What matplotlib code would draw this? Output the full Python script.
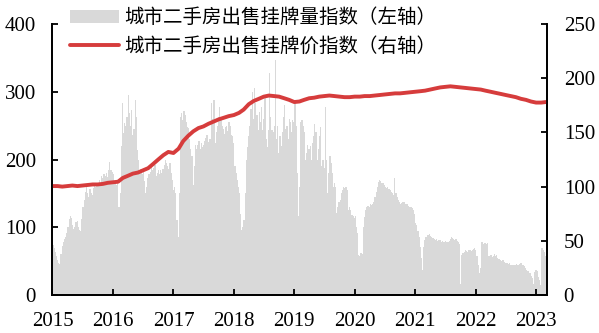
import matplotlib
matplotlib.use('Agg')
import matplotlib.pyplot as plt
import pandas as pd

listing_2015 = [74, 70, 64, 58, 52, 48, 46, 60, 72, 78,
                82, 86, 91, 100, 112, 116, 114, 104, 98, 101,
                108, 109, 100, 96, 94, 112, 130, 140, 152, 160,
                150, 145, 156, 150, 148, 158, 165, 160, 166, 165,
                170, 162, 175, 172, 178, 176, 180, 174, 185, 196,
                184, 182]
listing_2016 = [178, 168, 165, 162, 166, 130, 150, 220, 284, 239,
                254, 250, 262, 295, 268, 250, 273, 236, 245, 288,
                262, 214, 199, 180, 186, 178, 182, 168, 150, 160,
                173, 178, 182, 190, 184, 188, 192, 175, 180, 185,
                178, 184, 180, 186, 192, 199, 195, 190, 186, 195,
                180, 170]
listing_2017 = [155, 160, 150, 110, 86, 150, 262, 268, 258, 271,
                265, 255, 248, 246, 230, 215, 205, 162, 190, 221,
                215, 222, 228, 215, 225, 218, 222, 228, 232, 236,
                226, 230, 230, 283, 260, 288, 225, 240, 250, 262,
                278, 262, 250, 245, 238, 248, 250, 242, 255, 250,
                236, 235]
listing_2018 = [225, 190, 180, 170, 160, 150, 120, 96, 100, 110,
                150, 200, 219, 235, 250, 275, 300, 260, 305, 283,
                265, 244, 270, 255, 278, 244, 260, 293, 230, 219,
                244, 327, 262, 244, 240, 250, 347, 230, 250, 210,
                235, 220, 240, 262, 280, 245, 250, 230, 260, 255,
                240, 258]
listing_2019 = [255, 283, 250, 180, 116, 160, 255, 258, 250, 240,
                199, 210, 222, 215, 220, 199, 225, 235, 252, 240,
                199, 215, 235, 248, 190, 200, 188, 278, 200, 150,
                180, 205, 195, 180, 160, 165, 160, 121, 130, 138,
                140, 150, 155, 160, 158, 160, 155, 125, 130, 125,
                118, 116, 113]
listing_2020 = [116, 100, 91, 59, 58, 62, 61, 101, 115, 125,
                130, 132, 130, 135, 133, 135, 138, 145, 152, 160,
                167, 170, 168, 165, 166, 163, 160, 158, 160, 156,
                155, 152, 150, 148, 172, 150, 145, 140, 138, 135,
                136, 138, 137, 135, 134, 135, 132, 130, 130, 128,
                125, 120]
listing_2021 = [106, 103, 95, 86, 71, 55, 37, 71, 81, 85,
                88, 89, 90, 87, 86, 84, 82, 81, 82, 80,
                81, 81, 79, 80, 78, 79, 80, 79, 78, 80,
                82, 85, 84, 83, 81, 82, 80, 79, 76, 17,
                59, 62, 64, 66, 65, 64, 66, 66, 65, 67,
                68, 69]
listing_2022 = [66, 57, 45, 32, 40, 79, 78, 76, 77, 75,
                77, 57, 58, 59, 56, 57, 60, 58, 59, 55,
                53, 52, 50, 51, 52, 49, 48, 47, 46, 47,
                45, 44, 45, 45, 44, 46, 45, 44, 46, 47,
                44, 45, 43, 40, 37, 36, 33, 32, 28, 25,
                17, 34]
listing_2023 = [37, 36, 27, 22, 15, 69, 66, 64, 57, 55]

listing = (listing_2015 + listing_2016 + listing_2017 + listing_2018 + listing_2019
           + listing_2020 + listing_2021 + listing_2022 + listing_2023)
weeks = pd.date_range('2015-01-04', periods=len(listing), freq='W-SUN')

#Monthly listing price index (right axis)
price = [100.5, 100.5, 100, 100.5, 101, 100.5, 101, 101.5, 102, 102, 102.5, 103.5,
         104, 104.5, 108, 110, 112, 113, 115, 117, 121, 125, 129, 132,
         131, 135, 142, 147, 151, 154, 155.5, 158, 160, 162, 163.5, 165,
         166, 168, 171, 176, 179, 181, 183, 184, 183.5, 183, 181.5, 180,
         178, 178.5, 180, 181.5, 182, 183, 183.5, 184, 183.5, 183, 182.5, 182.5,
         183, 183, 183.5, 183.5, 184, 184.5, 185, 185.5, 186, 186, 186.5, 187,
         187.5, 188, 188.5, 189.5, 190.5, 191.5, 192, 192.5, 192, 191.5, 191, 190.5,
         190, 189.5, 188.5, 187.5, 186.5, 185.5, 184.5, 183.5, 182.5, 181, 180, 178.5,
         177.5, 177.5, 178]
months = pd.date_range('2015-01-01', periods=len(price), freq='MS')

years = list(range(2015, 2024))
left_ticks = [0, 100, 200, 300, 400]
right_ticks = [0, 50, 100, 150, 200, 250]

label_listing = '城市二手房出售挂牌量指数（左轴）'
label_price = '城市二手房出售挂牌价指数（右轴）'

plt.rcParams['font.family'] = ['Liberation Serif', 'Noto Sans CJK SC']
plt.rcParams['axes.unicode_minus'] = False

fig = plt.figure(figsize=(5.99, 3.33), dpi=100)
ax = fig.add_axes([0.0876, 0.114, 0.8256, 0.814])
ax2 = ax.twinx()

#Gray weekly bars on the left axis (a touch wider than a week so no hairline gaps)
bars = ax.bar(weeks, listing, width=7.8, color='#d9d9d9', edgecolor='none', align='center')

#Red price line on the right axis
line, = ax2.plot(months, price, color='#d63c3c', lw=2.8, solid_capstyle='round')

ax.set_xlim(pd.Timestamp('2015-01-01'), pd.Timestamp('2023-03-08'))
ax.set_ylim(0, 400)
ax2.set_ylim(0, 250)
ax.set_yticks(left_ticks)
ax2.set_yticks(right_ticks)
ax.set_xticks([pd.Timestamp(f'{y}-01-01') for y in years])
ax.set_xticklabels([str(y) for y in years])

for a in (ax, ax2):
    a.spines['top'].set_visible(False)
    for s in ('left', 'right', 'bottom'):
        a.spines[s].set_linewidth(1.3)
    a.tick_params(direction='in', length=4, width=1.3, labelsize=15, pad=12)
ax.tick_params(axis='x', pad=12)

leg = fig.legend([bars, line], [label_listing, label_price],
                 loc='upper left', bbox_to_anchor=(0.117, 0.978), frameon=False,
                 prop={'family': ['Noto Sans CJK SC'], 'size': 14},
                 handlelength=2.5, handleheight=0.7, handletextpad=0.28,
                 labelspacing=0.36, borderaxespad=0, borderpad=0)

fig.savefig('out.png', dpi=100)
